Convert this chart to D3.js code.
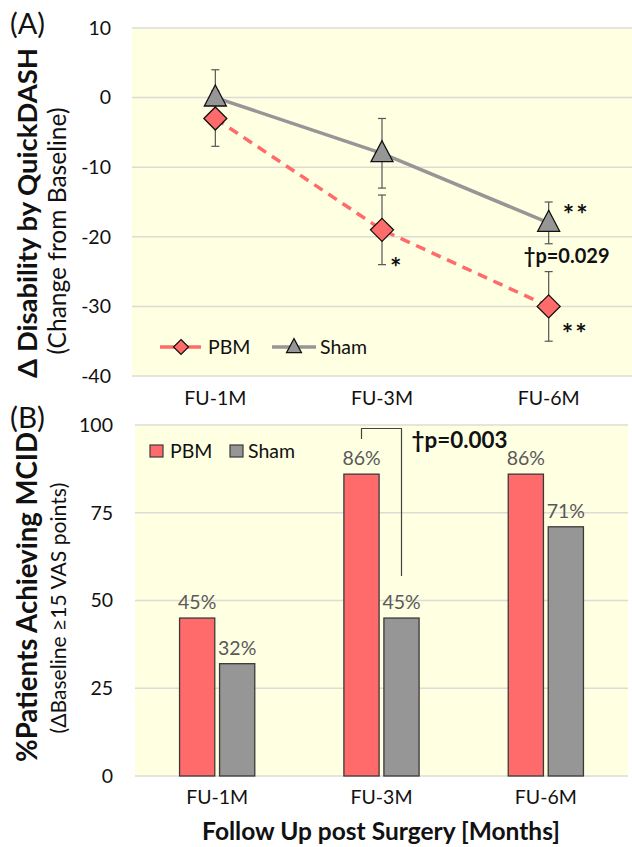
<!DOCTYPE html>
<html><head><meta charset="utf-8">
<script src="https://cdn.jsdelivr.net/npm/d3@7"></script>
<style>
body{margin:0;background:#fff;}
svg{display:block;font-family:Lato,"Open Sans",sans-serif;}
</style></head>
<body>
<svg id="chart" width="632" height="847"></svg>
<script>
// ---- Data ----
const categories = ["FU-1M", "FU-3M", "FU-6M"];
const series = ["PBM", "Sham"];
// Panel A: change in QuickDASH
const pbmMean = [-3, -19, -30];
const pbmErr = [4, 5, 5];
const shamMean = [0, -8, -18];
const shamErr = [4, 5, 3];
const ticksA = [10, 0, -10, -20, -30, -40];
// Panel B: % achieving MCID
const pbmPct = [45, 86, 86];
const shamPct = [32, 45, 71];
const ticksB = [0, 25, 50, 75, 100];
// significance annotations
const starsA = [
  {series: "PBM", cat: "FU-3M", text: "*"},
  {series: "Sham", cat: "FU-6M", text: "**"},
  {series: "PBM", cat: "FU-6M", text: "**"}
];
const pA = "\u2020p=0.029";
const pB = "\u2020p=0.003";
const bracketB = [96, 99, 57]; // left end, top, right end (in % units)

const colors = {PBM: "#ff6b6b", Sham: "#969696"};
const bg = "#ffffe2";
const grid = "#dcdcd6";
const svg = d3.select("#chart");

// fit a text element's font size so its length matches a target width
function fit(sel, target) {
  const fs = parseFloat(sel.attr("font-size"));
  const len = sel.node().getComputedTextLength();
  if (len > 0) sel.attr("font-size", (fs * target / len).toFixed(2));
  return sel;
}

// ===== Panel A =====
const A = {l: 132, r: 632, t: 28, b: 376};
const xA = d3.scaleBand().domain(categories).range([A.l, A.r]);
const yA = d3.scaleLinear().domain([-40, 10]).range([A.b, A.t]);
const cx = c => xA(c) + xA.bandwidth() / 2;

svg.append("rect").attr("x", A.l).attr("y", A.t).attr("width", A.r - A.l).attr("height", A.b - A.t).attr("fill", bg);
svg.append("g").selectAll("line").data(ticksA).join("line")
  .attr("x1", A.l).attr("x2", A.r).attr("y1", d => yA(d)).attr("y2", d => yA(d))
  .attr("stroke", grid).attr("stroke-width", 1.5);
svg.append("g").selectAll("text").data(ticksA).join("text")
  .attr("x", 111).attr("y", d => yA(d)).attr("dy", "0.35em").attr("text-anchor", "end")
  .attr("font-size", 19.5).attr("fill", "#111").text(d => d);
svg.append("g").selectAll("text").data(categories).join("text")
  .attr("x", d => cx(d)).attr("y", 405).attr("text-anchor", "middle")
  .attr("font-size", 19.5).attr("fill", "#111").text(d => d);

const dataA = [
  {name: "PBM", mean: pbmMean, err: pbmErr},
  {name: "Sham", mean: shamMean, err: shamErr}
];
const line = d3.line().x((d, i) => cx(categories[i])).y(d => yA(d));
svg.append("path").datum(shamMean).attr("d", line).attr("fill", "none")
  .attr("stroke", colors.Sham).attr("stroke-width", 3.5);
svg.append("path").datum(pbmMean).attr("d", line).attr("fill", "none")
  .attr("stroke", colors.PBM).attr("stroke-width", 3.5).attr("stroke-dasharray", "10,7");
dataA.forEach(s => {
  const g = svg.append("g").attr("stroke", "#555").attr("stroke-width", 1.2);
  s.mean.forEach((m, i) => {
    const x = cx(categories[i]);
    const y1 = yA(m + s.err[i]), y2 = yA(m - s.err[i]);
    g.append("line").attr("x1", x).attr("x2", x).attr("y1", y1).attr("y2", y2);
    g.append("line").attr("x1", x - 4).attr("x2", x + 4).attr("y1", y1).attr("y2", y1);
    g.append("line").attr("x1", x - 4).attr("x2", x + 4).attr("y1", y2).attr("y2", y2);
  });
});
const diamond = (x, y, r) => `M${x},${y - r}L${x + r},${y}L${x},${y + r}L${x - r},${y}Z`;
const tri = (x, y, w, h) => `M${x},${y - h * 0.6}L${x + w / 2},${y + h * 0.4}L${x - w / 2},${y + h * 0.4}Z`;
svg.append("g").selectAll("path").data(shamMean).join("path")
  .attr("d", (d, i) => tri(cx(categories[i]), yA(d), 22, 21))
  .attr("fill", colors.Sham).attr("stroke", "#111").attr("stroke-width", 1.3);
svg.append("g").selectAll("path").data(pbmMean).join("path")
  .attr("d", (d, i) => diamond(cx(categories[i]), yA(d), 11.5))
  .attr("fill", colors.PBM).attr("stroke", "#111").attr("stroke-width", 1.3);
// stars
const starPos = {
  "PBM|FU-3M": {dx: 8, ref: () => yA(pbmMean[1] - pbmErr[1])},
  "Sham|FU-6M": {dx: 14, ref: () => yA(shamMean[2] + 1.5)},
  "PBM|FU-6M": {dx: 13, ref: () => yA(pbmMean[2] - 3.5)}
};
starsA.forEach(s => {
  const p = starPos[s.series + "|" + s.cat];
  svg.append("text").attr("x", cx(s.cat) + p.dx).attr("y", p.ref() + 12)
    .attr("font-size", 27).attr("font-weight", "bold")
    .attr("letter-spacing", 2).attr("fill", "#111").text(s.text);
});
svg.append("text").attr("x", cx("FU-6M") + 18).attr("y", 263).attr("text-anchor", "middle")
  .attr("font-size", 20).attr("font-weight", "bold").attr("fill", "#111").text(pA);
// legend A
const legA = svg.append("g");
legA.append("line").attr("x1", 160).attr("x2", 201).attr("y1", 347).attr("y2", 347)
  .attr("stroke", colors.PBM).attr("stroke-width", 3.5);
legA.append("path").attr("d", diamond(181, 347, 7.5)).attr("fill", colors.PBM).attr("stroke", "#111").attr("stroke-width", 1.2);
legA.append("text").attr("x", 208).attr("y", 347).attr("dy", "0.35em").attr("font-size", 19.5).attr("fill", "#111").text(series[0]);
legA.append("line").attr("x1", 272).attr("x2", 316).attr("y1", 347).attr("y2", 347)
  .attr("stroke", colors.Sham).attr("stroke-width", 3.5);
legA.append("path").attr("d", tri(294, 347, 15, 14)).attr("fill", colors.Sham).attr("stroke", "#111").attr("stroke-width", 1.2);
legA.append("text").attr("x", 320).attr("y", 347).attr("dy", "0.35em").attr("font-size", 19.5).attr("fill", "#111").text(series[1]);

// titles A
fit(svg.append("text").attr("x", 10).attr("y", 34).attr("font-size", 22).attr("fill", "#111").text("(A)"), 35);
fit(svg.append("text").attr("transform", "translate(37,213) rotate(-90)").attr("text-anchor", "middle")
  .attr("font-size", 23).attr("font-weight", "bold").attr("fill", "#111").text("\u0394 Disability by QuickDASH"), 330);
fit(svg.append("text").attr("transform", "translate(66,231) rotate(-90)").attr("text-anchor", "middle")
  .attr("font-size", 16.5).attr("fill", "#111").text("(Change from Baseline)"), 247);

// ===== Panel B =====
const B = {l: 135, r: 628, t: 425, b: 776};
const xB = d3.scaleBand().domain(categories).range([B.l, B.r]);
const xSub = d3.scaleBand().domain(series).range([0, 80]).paddingInner(0.12).paddingOuter(0.06);
const yB = d3.scaleLinear().domain([0, 100]).range([B.b, B.t]);
const groupX = c => xB(c) + xB.bandwidth() / 2 - 40;

svg.append("rect").attr("x", B.l).attr("y", B.t).attr("width", B.r - B.l).attr("height", B.b - B.t).attr("fill", bg);
svg.append("g").selectAll("line").data(ticksB).join("line")
  .attr("x1", B.l).attr("x2", B.r).attr("y1", d => yB(d)).attr("y2", d => yB(d))
  .attr("stroke", grid).attr("stroke-width", 1.5);
svg.append("g").selectAll("text").data(ticksB).join("text")
  .attr("x", 113).attr("y", d => yB(d)).attr("dy", "0.35em").attr("text-anchor", "end")
  .attr("font-size", 19.5).attr("fill", "#111").text(d => d);
svg.append("g").selectAll("text").data(categories).join("text")
  .attr("x", d => xB(d) + xB.bandwidth() / 2).attr("y", 804).attr("text-anchor", "middle")
  .attr("font-size", 19.5).attr("fill", "#111").text(d => d);

const barData = [];
categories.forEach((c, i) => {
  barData.push({cat: c, s: "PBM", v: pbmPct[i]});
  barData.push({cat: c, s: "Sham", v: shamPct[i]});
});
svg.append("g").selectAll("rect").data(barData).join("rect")
  .attr("x", d => groupX(d.cat) + xSub(d.s)).attr("width", xSub.bandwidth())
  .attr("y", d => yB(d.v)).attr("height", d => yB(0) - yB(d.v))
  .attr("fill", d => colors[d.s]).attr("stroke", "#3a3a3a").attr("stroke-width", 1.3);
svg.append("g").selectAll("text").data(barData).join("text")
  .attr("x", d => groupX(d.cat) + xSub(d.s) + xSub.bandwidth() / 2)
  .attr("y", d => yB(d.v) - 9).attr("text-anchor", "middle")
  .attr("font-size", 19.5).attr("fill", "#595959").text(d => d.v + "%");

// bracket
const bxL = groupX("FU-3M") + xSub("PBM") + xSub.bandwidth() / 2;
const bxR = groupX("FU-3M") + xSub("Sham") + xSub.bandwidth() / 2;
svg.append("path")
  .attr("d", `M${bxL},${yB(bracketB[0])}V${yB(bracketB[1])}H${bxR}V${yB(bracketB[2])}`)
  .attr("fill", "none").attr("stroke", "#444").attr("stroke-width", 1.2);
fit(svg.append("text").attr("x", bxR + 10).attr("y", 448).attr("font-size", 22).attr("font-weight", "bold")
  .attr("fill", "#111").text(pB), 96);

// legend B
const legB = svg.append("g");
[["PBM", 150, 170], ["Sham", 230, 248]].forEach(([s, x, tx]) => {
  legB.append("rect").attr("x", x).attr("y", 445).attr("width", 13).attr("height", 12)
    .attr("fill", colors[s]).attr("stroke", "#3a3a3a").attr("stroke-width", 1.2);
  legB.append("text").attr("x", tx).attr("y", 451).attr("dy", "0.35em").attr("font-size", 19.5).attr("fill", "#111").text(s);
});

fit(svg.append("text").attr("x", 10).attr("y", 428).attr("font-size", 22).attr("fill", "#111").text("(B)"), 35);
fit(svg.append("text").attr("transform", "translate(37,597) rotate(-90)").attr("text-anchor", "middle")
  .attr("font-size", 23).attr("font-weight", "bold").attr("fill", "#111").text("%Patients Achieving MCID"), 330);
fit(svg.append("text").attr("transform", "translate(66,608) rotate(-90)").attr("text-anchor", "middle")
  .attr("font-size", 16.5).attr("fill", "#111").text("(\u0394Baseline \u226515 VAS points)"), 251);
fit(svg.append("text").attr("x", 381).attr("y", 840).attr("text-anchor", "middle")
  .attr("font-size", 21).attr("font-weight", "bold").attr("fill", "#111").text("Follow Up post Surgery [Months]"), 358);
</script>
</body></html>
